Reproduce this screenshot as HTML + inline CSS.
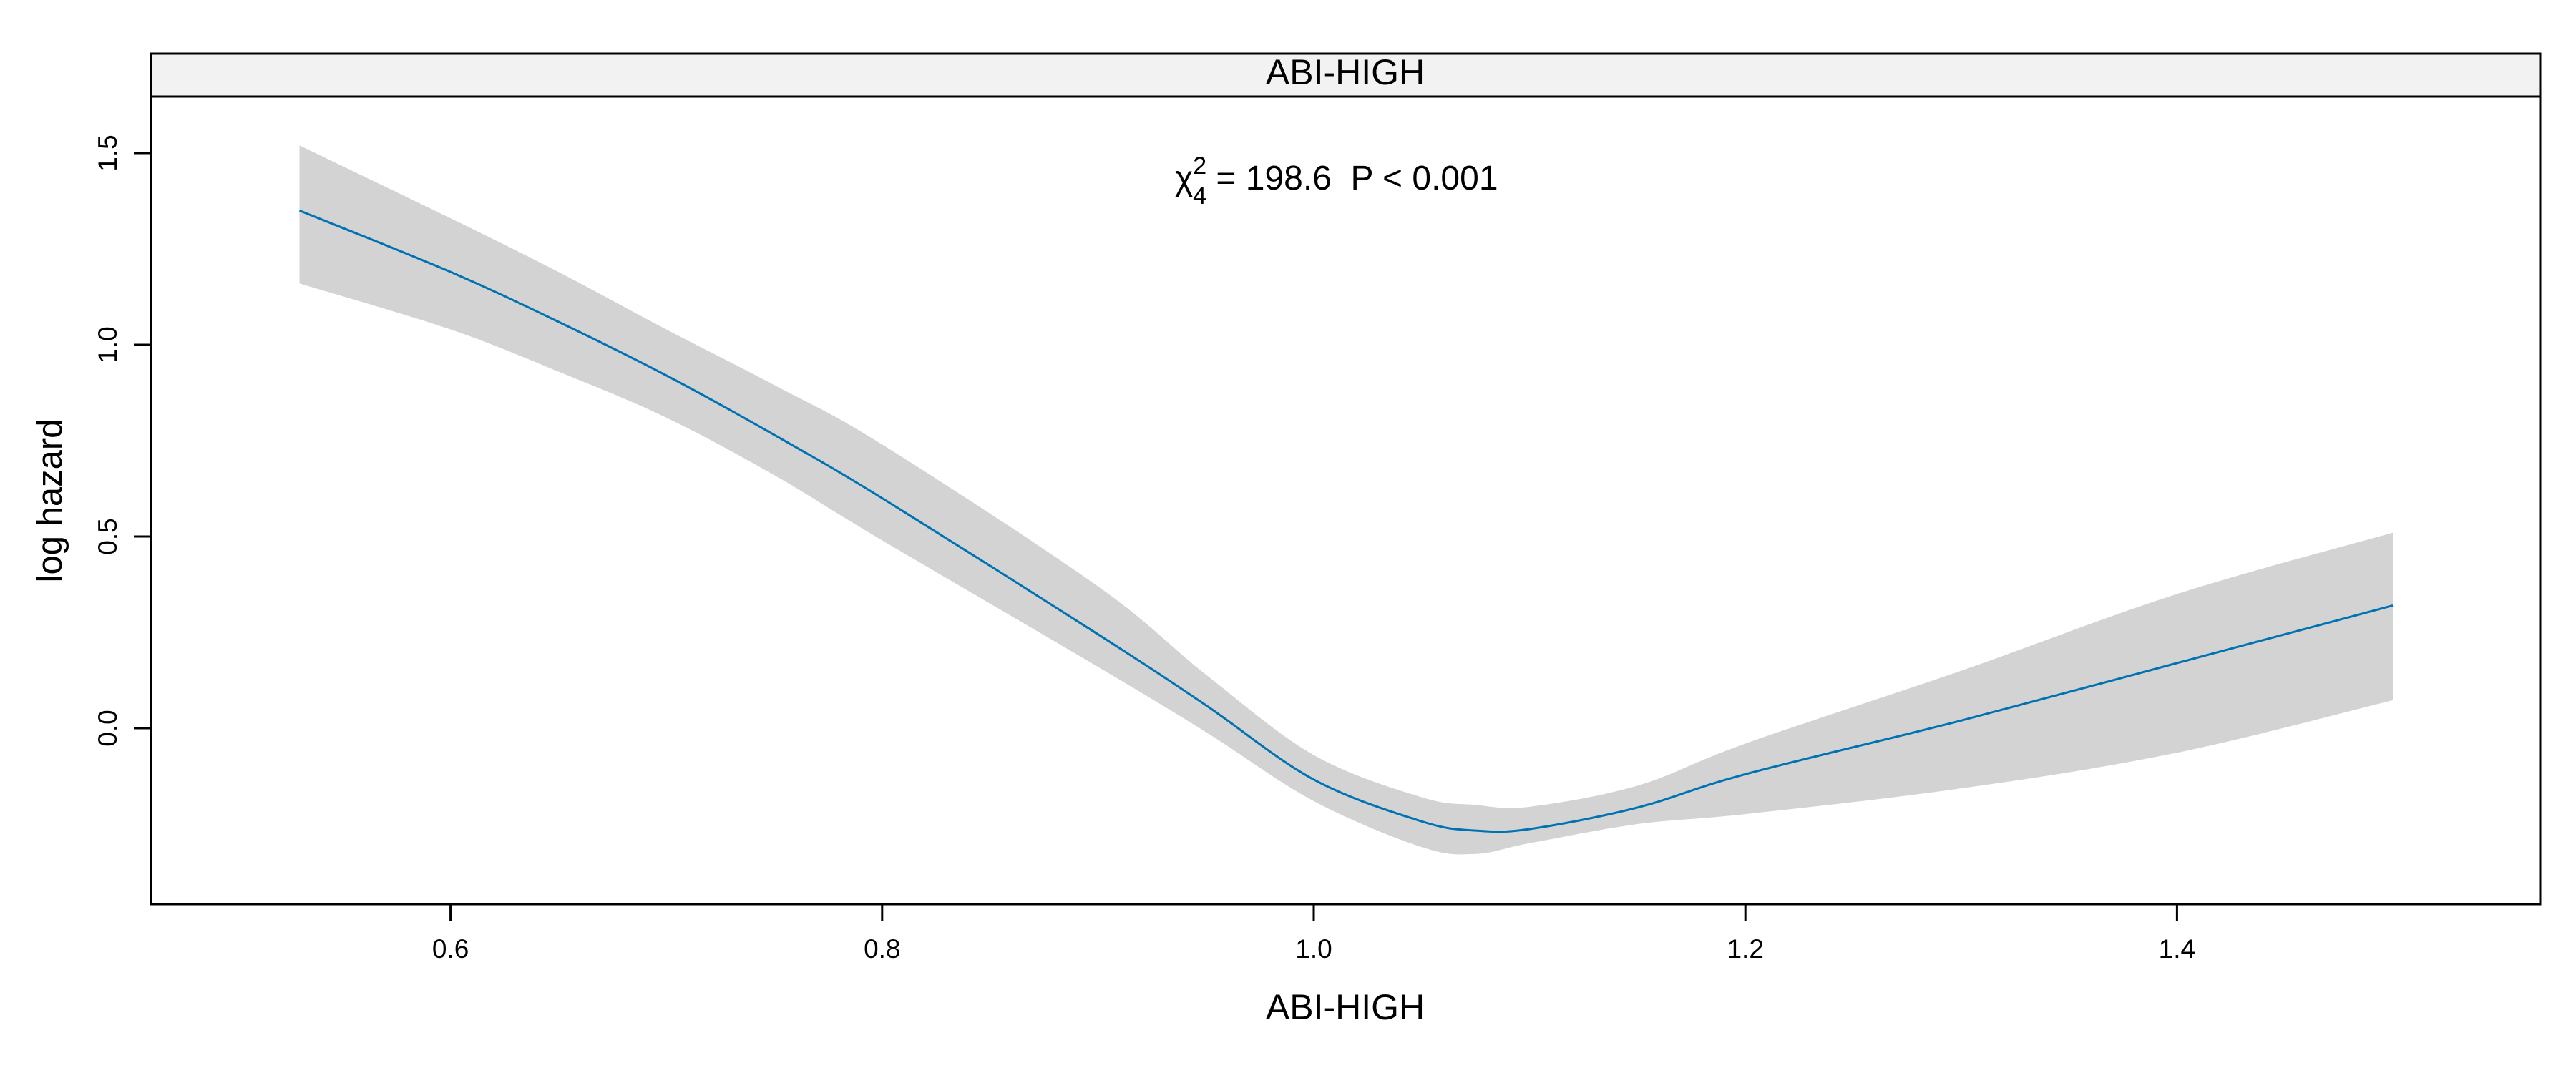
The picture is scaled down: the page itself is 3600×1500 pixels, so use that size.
<!DOCTYPE html>
<html><head><meta charset="utf-8"><style>
html,body{margin:0;padding:0;background:#fff;}
svg{display:block;font-family:"Liberation Sans",Arial,sans-serif;}
</style></head><body>
<svg id="chart" width="3600" height="1500" viewBox="0 0 3600 1500" xmlns="http://www.w3.org/2000/svg">
<rect x="0" y="0" width="3600" height="1500" fill="#fff"/>
<g id="band"></g>
<g id="line"></g>
<rect x="211" y="75" width="3339" height="60" fill="#f2f2f2" stroke="#000" stroke-width="3"/>
<text x="1880" y="118" font-size="50" text-anchor="middle">ABI-HIGH</text>
<rect x="211" y="135" width="3339" height="1129" fill="none" stroke="#000" stroke-width="3"/>
<g id="xaxis"></g>
<g id="yaxis"></g>
<text x="1880" y="1425" font-size="50" text-anchor="middle">ABI-HIGH</text>
<text transform="translate(86,700) rotate(-90)" font-size="49" text-anchor="middle">log hazard</text>
<text x="1642" y="265" font-size="48" xml:space="preserve" style="white-space:pre">χ<tspan font-size="34" dy="-22">2</tspan><tspan font-size="34" dx="-19" dy="42">4</tspan><tspan dy="-20"> = 198.6  P &lt; 0.001</tspan></text>
</svg>
<script>
const xVals = [0.53,0.6,0.65,0.7,0.75,0.8,0.9,0.95,1.0,1.05,1.075,1.1,1.15,1.2,1.3,1.4,1.5];
const fitVals = [1.35,1.19,1.06,0.92,0.765,0.60,0.245,0.06,-0.134,-0.243,-0.267,-0.263,-0.207,-0.12,0.02,0.17,0.32];
const upperVals = [1.52,1.33,1.19,1.04,0.895,0.74,0.37,0.14,-0.07,-0.18,-0.2,-0.205,-0.15,-0.04,0.15,0.35,0.51];
const lowerVals = [1.16,1.04,0.93,0.81,0.66,0.49,0.16,-0.01,-0.19,-0.31,-0.328,-0.3,-0.25,-0.224,-0.157,-0.064,0.073];
const xTicks = [0.6,0.8,1.0,1.2,1.4];
const xTickLabels = ["0.6","0.8","1.0","1.2","1.4"];
const yTicks = [0.0,0.5,1.0,1.5];
const yTickLabels = ["0.0","0.5","1.0","1.5"];

const NS = "http://www.w3.org/2000/svg";
function sx(v){ return 1836 + (v - 1.0) * 3016; }
function sy(v){ return 1018 - v * 536; }
function smooth(pts){
  let d = "M" + pts[0][0] + "," + pts[0][1];
  for (let i = 0; i < pts.length - 1; i++) {
    const p0 = pts[i-1] || pts[i], p1 = pts[i], p2 = pts[i+1], p3 = pts[i+2] || p2;
    const c1x = p1[0] + (p2[0]-p0[0])/6, c1y = p1[1] + (p2[1]-p0[1])/6;
    const c2x = p2[0] - (p3[0]-p1[0])/6, c2y = p2[1] - (p3[1]-p1[1])/6;
    d += " C" + c1x + "," + c1y + " " + c2x + "," + c2y + " " + p2[0] + "," + p2[1];
  }
  return d;
}
const up = xVals.map((x,i)=>[sx(x), sy(upperVals[i])]);
const lo = xVals.map((x,i)=>[sx(x), sy(lowerVals[i])]).reverse();
const bandPath = document.createElementNS(NS, "path");


bandPath.setAttribute("d", smooth(up) + " L" + lo[0][0] + "," + lo[0][1] + smooth(lo).replace(/^M[^ ]+/, "") + " Z");
bandPath.setAttribute("fill", "#d3d3d3");
document.getElementById("band").appendChild(bandPath);

const fit = xVals.map((x,i)=>[sx(x), sy(fitVals[i])]);
const linePath = document.createElementNS(NS, "path");


linePath.setAttribute("d", smooth(fit));
linePath.setAttribute("fill", "none");
linePath.setAttribute("stroke", "#0072B2");
linePath.setAttribute("stroke-width", "3");
document.getElementById("line").appendChild(linePath);

const xa = document.getElementById("xaxis");
xTicks.forEach((t,i)=>{
  const l = document.createElementNS(NS, "line");
  
  
  l.setAttribute("x1", sx(t)); l.setAttribute("x2", sx(t));
  l.setAttribute("y1", 1264); l.setAttribute("y2", 1288);
  l.setAttribute("stroke", "#000"); l.setAttribute("stroke-width", "3");
  xa.appendChild(l);
  const tx = document.createElementNS(NS, "text");
  
  
  tx.setAttribute("x", sx(t)); tx.setAttribute("y", 1339);
  tx.setAttribute("font-size", "37"); tx.setAttribute("text-anchor", "middle");
  tx.textContent = xTickLabels[i];
  xa.appendChild(tx);
});
const ya = document.getElementById("yaxis");
yTicks.forEach((t,i)=>{
  const l = document.createElementNS(NS, "line");
  
  
  l.setAttribute("x1", 187); l.setAttribute("x2", 211);
  l.setAttribute("y1", sy(t)); l.setAttribute("y2", sy(t));
  l.setAttribute("stroke", "#000"); l.setAttribute("stroke-width", "3");
  ya.appendChild(l);
  const tx = document.createElementNS(NS, "text");
  
  
  tx.setAttribute("transform", "translate(163," + sy(t) + ") rotate(-90)");
  tx.setAttribute("font-size", "37"); tx.setAttribute("text-anchor", "middle");
  tx.textContent = yTickLabels[i];
  ya.appendChild(tx);
});
</script>
</body></html>
